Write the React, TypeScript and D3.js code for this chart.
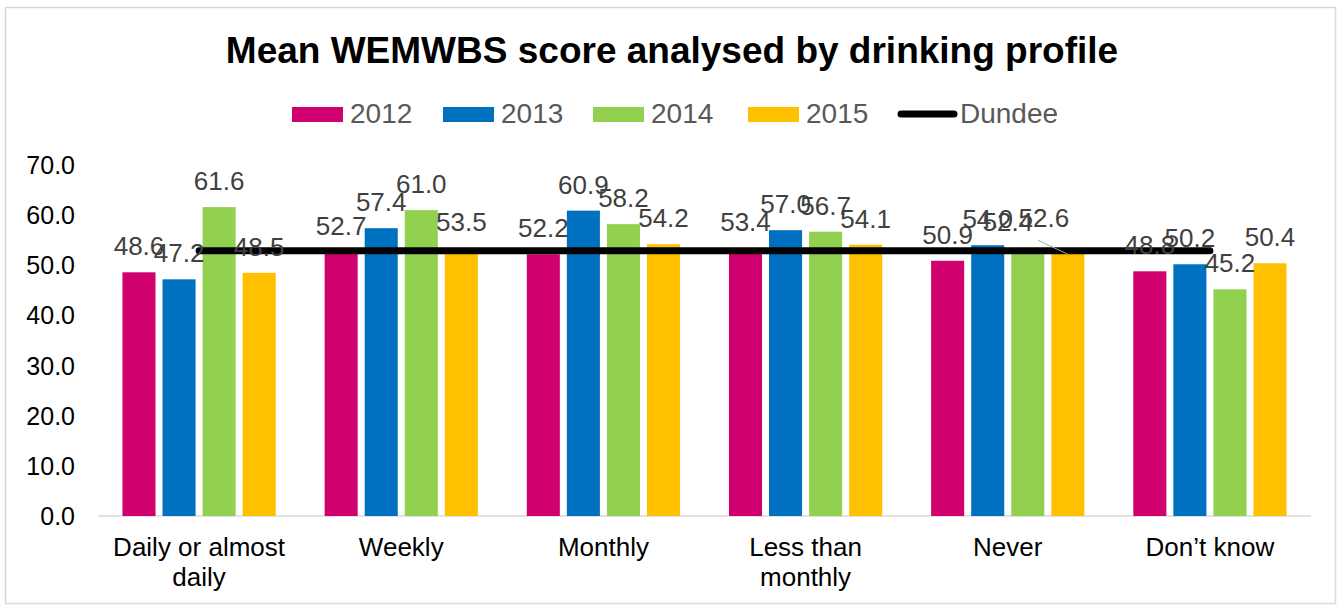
import * as d3 from "d3";

const categories = ["Daily or almost daily", "Weekly", "Monthly", "Less than monthly", "Never", "Don\u2019t know"];
const categoryLines = [["Daily or almost", "daily"], ["Weekly"], ["Monthly"], ["Less than", "monthly"], ["Never"], ["Don\u2019t know"]];
const years = ["2012", "2013", "2014", "2015"];
const values2012 = [48.6, 52.7, 52.2, 53.4, 50.9, 48.8];
const values2013 = [47.2, 57.4, 60.9, 57.0, 54.0, 50.2];
const values2014 = [61.6, 61.0, 58.2, 56.7, 52.4, 45.2];
const values2015 = [48.5, 53.5, 54.2, 54.1, 52.6, 50.4];
const dundee = [52.9, 52.9, 52.9, 52.9, 52.9, 52.9];
const yTicks = [0, 10, 20, 30, 40, 50, 60, 70];
const colors = ["#D0006F", "#0070C0", "#92D050", "#FFC000"];

const W = 1342;
const H = 606;
const font = "'Liberation Sans', Arial, sans-serif";

export default function App() {
  const series = [values2012, values2013, values2014, values2015];
  const x = d3.scaleBand<string>().domain(categories).range([98, 1311]).padding(0);
  const xs = d3
    .scaleBand<string>()
    .domain(years)
    .range([x.bandwidth() * 0.121, x.bandwidth() * 0.879])
    .paddingInner(0.175);
  const y = d3.scaleLinear().domain([0, 70]).range([516, 165]);

  const line = d3
    .line<number>()
    .x((_, i) => (x(categories[i]) as number) + x.bandwidth() / 2)
    .y((d) => y(d));

  const legend = [
    { label: "2012", color: colors[0], x: 292 },
    { label: "2013", color: colors[1], x: 443 },
    { label: "2014", color: colors[2], x: 593 },
    { label: "2015", color: colors[3], x: 748 },
  ];

  return (
    <div style={{ position: "absolute", left: 0, top: 0 }}>
      <svg width={W} height={H} style={{ display: "block", fontFamily: font }}>
        <rect x={0} y={0} width={W} height={H} fill="#fff" />
        <rect x={5.5} y={7.5} width={1330} height={596} fill="none" stroke="#d9d9d9" strokeWidth={1.5} />
        <text x={672} y={63} textAnchor="middle" fontSize={37} fontWeight="bold" fill="#000">
          Mean WEMWBS score analysed by drinking profile
        </text>

        {legend.map((l) => (
          <g key={l.label}>
            <rect x={l.x} y={107} width={51} height={15} fill={l.color} />
            <text x={l.x + 58} y={123} fontSize={28} fill="#595959">
              {l.label}
            </text>
          </g>
        ))}
        <line x1={901} x2={954} y1={114} y2={114} stroke="#000" strokeWidth={7} strokeLinecap="round" />
        <text x={960} y={123} fontSize={28} fill="#595959">
          Dundee
        </text>

        {yTicks.map((t) => (
          <text key={t} x={75} y={y(t) + 9} textAnchor="end" fontSize={25} fill="#000">
            {t.toFixed(1)}
          </text>
        ))}

        <line x1={98} x2={1311} y1={y(0)} y2={y(0)} stroke="#d9d9d9" strokeWidth={1.5} />

        {categories.map((c, ci) => (
          <g key={c}>
            {series.map((vals, si) => {
              const bx = (x(c) as number) + (xs(years[si]) as number);
              return (
                <rect
                  key={si}
                  x={bx}
                  y={y(vals[ci])}
                  width={xs.bandwidth()}
                  height={y(0) - y(vals[ci])}
                  fill={colors[si]}
                />
              );
            })}
            {categoryLines[ci].map((ln, li) => (
              <text
                key={li}
                x={(x(c) as number) + x.bandwidth() / 2}
                y={556 + li * 30}
                textAnchor="middle"
                fontSize={26}
                fill="#000"
              >
                {ln}
              </text>
            ))}
          </g>
        ))}

        <path d={line(dundee) || ""} fill="none" stroke="#000" strokeWidth={7} strokeLinecap="round" />

        {categories.map((c, ci) =>
          series.map((vals, si) => {
            let cx = (x(c) as number) + (xs(years[si]) as number) + xs.bandwidth() / 2;
            let cy = y(vals[ci]) - 17;
            // Never / 2014 and 2015 labels were dragged off their bars in the original
            const movedGreen = ci === 4 && si === 2;
            const movedYellow = ci === 4 && si === 3;
            if (movedGreen) {
              cx -= 20;
              cy -= 5;
            }
            if (movedYellow) {
              cx -= 24;
              cy -= 8;
            }
            return (
              <g key={`${ci}-${si}`}>
                {movedYellow && (
                  <line
                    x1={cx - 6}
                    y1={cy + 13}
                    x2={cx + 24}
                    y2={y(vals[ci]) + 2}
                    stroke="#a6a6a6"
                    strokeWidth={1}
                  />
                )}
                <text x={cx} y={cy} textAnchor="middle" fontSize={26} fill="#404040">
                  {vals[ci].toFixed(1)}
                </text>
              </g>
            );
          })
        )}
      </svg>
    </div>
  );
}
